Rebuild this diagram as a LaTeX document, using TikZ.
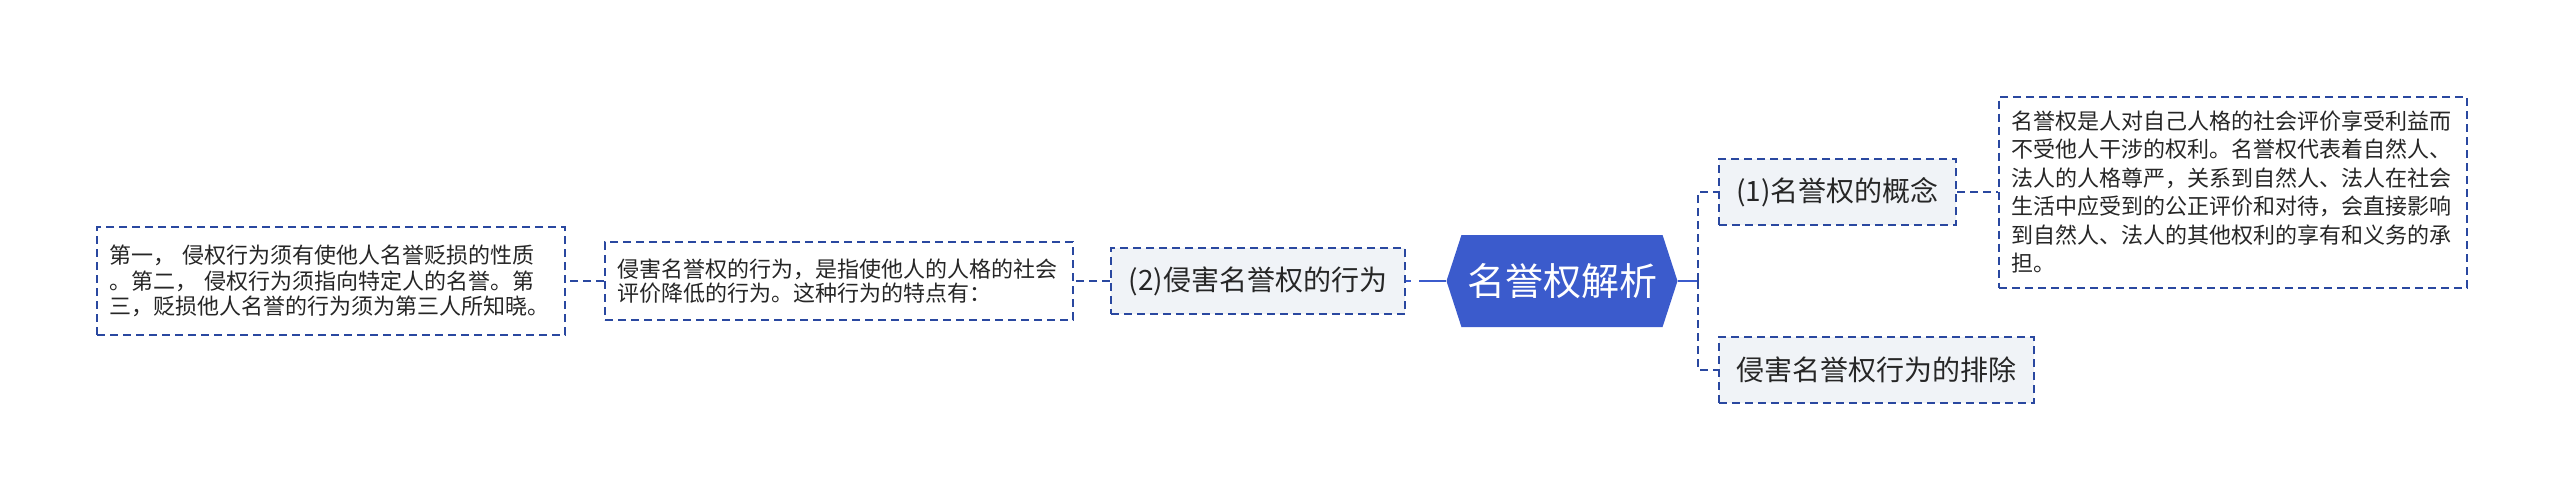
\documentclass[tikz,border=0pt]{standalone}
\usepackage{fontspec}
\setmainfont{Noto Sans CJK SC}
\usetikzlibrary{positioning,shapes.symbols}
\definecolor{rootblue}{RGB}{59,91,204}
\definecolor{lineblue}{RGB}{42,72,160}
\definecolor{topicfill}{RGB}{240,243,247}
\definecolor{ink}{RGB}{38,38,38}
\tikzset{
    root/.style={shape=signal, signal to=west and east, signal pointer angle=144, fill=rootblue, text=white, font=\fontsize{19}{23}\selectfont, minimum width=115.5pt, minimum height=46pt, inner sep=0pt},
    topic/.style={draw=lineblue, fill=topicfill, line width=1pt, dash pattern=on 4pt off 2.5pt, text=ink, font=\fontsize{14}{17}\selectfont, minimum height=33pt, inner sep=0pt},
    note/.style={draw=lineblue, fill=white, line width=1pt, dash pattern=on 4pt off 2.5pt, text=ink, align=left, text width=222pt, inner xsep=6pt, inner ysep=0pt},
    link/.style={draw=lineblue, line width=1pt, dash pattern=on 4pt off 2.5pt},
    stem/.style={draw=rootblue, line width=1.2pt}
}

\begin{document}
\begin{tikzpicture}[x=0.5pt, y=-0.5pt, node distance=20pt]
\fill[white] (0,0) rectangle (2560,499);
\useasboundingbox (0,0) rectangle (2560,499);
\node[root] (root) at (1562,281) {名誉权解析};
\node[topic, minimum width=147pt, left=of root] (two) {(2)侵害名誉权的行为};
\node[note, minimum height=39pt, font=\fontsize{11}{12}\selectfont, left=18pt of two] (act) {侵害名誉权的行为，是指使他人的人格的社会\\评价降低的行为。这种行为的特点有：};
\node[note, minimum height=54pt, font=\fontsize{11}{12.6}\selectfont, left=19pt of act] (trait) {第一， 侵权行为须有使他人名誉贬损的性质\\。第二， 侵权行为须指向特定人的名誉。第\\三，贬损他人名誉的行为须为第三人所知晓。};
\coordinate (hub) at (1698,281);
\node[topic, minimum width=118.5pt, anchor=west] (one) at (1718,192) {(1)名誉权的概念};
\node[topic, minimum width=157.5pt, anchor=west] (excl) at (1718,370) {侵害名誉权行为的排除};
\node[note, minimum height=95.5pt, font=\fontsize{11}{14.25}\selectfont, right=20.5pt of one] (def) {名誉权是人对自己人格的社会评价享受利益而\\不受他人干涉的权利。名誉权代表着自然人、\\法人的人格尊严，关系到自然人、法人在社会\\生活中应受到的公正评价和对待，会直接影响\\到自然人、法人的其他权利的享有和义务的承\\担。};
\draw[stem, dash pattern=on 2.5pt off 4pt on 40pt] (two.east) -- (root.west);
\draw[stem] (root.east) -- (hub);
\draw[link] (hub) |- (one.west);
\draw[link] (hub) |- (excl.west);
\draw[link] (one) -- (def);
\draw[link] (two) -- (act);
\draw[link] (act) -- (trait);
\end{tikzpicture}
\end{document}
